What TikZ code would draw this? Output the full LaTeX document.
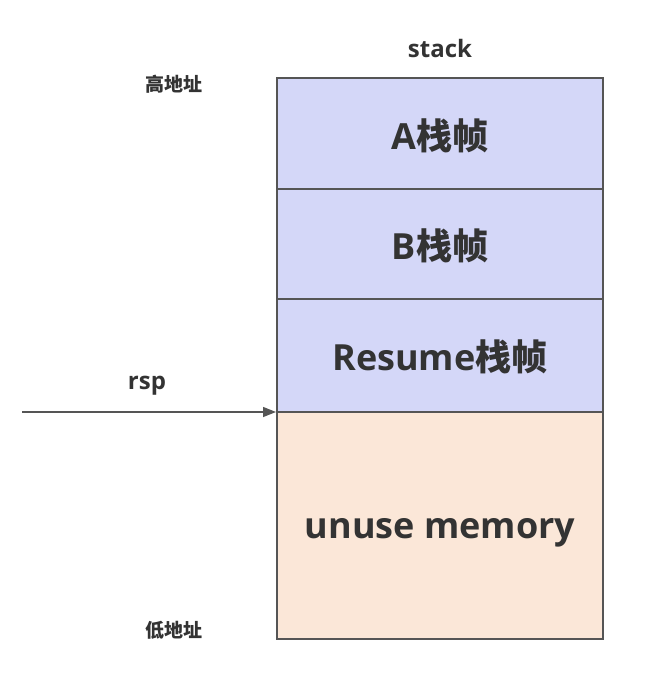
\documentclass[tikz,border=0pt]{standalone}
\usepackage{fontspec}
\setmainfont{Open Sans}
\newfontfamily\cjk{Noto Sans CJK SC}
\usetikzlibrary{arrows.meta}
\definecolor{frameblue}{HTML}{D4D7F8}
\definecolor{framepeach}{HTML}{FBE7D8}
\definecolor{edgegray}{HTML}{555555}
\definecolor{txt}{HTML}{333333}
\tikzset{
  cell/.style={draw=edgegray, line width=1.4pt},
  big/.style={font=\fontsize{36}{40}\selectfont\bfseries, text=txt},
  lbl/.style={font=\fontsize{24}{28}\selectfont\bfseries, text=txt},
  small/.style={font=\fontsize{19}{22}\selectfont\cjk\bfseries, text=txt},
}
\begin{document}
\begin{tikzpicture}[x=1pt,y=-1pt]
\useasboundingbox (0,0) rectangle (645,688);
\fill[white] (0,0) rectangle (645,688);
\path[cell, fill=frameblue] (277,78) rectangle (603,189);
\path[cell, fill=frameblue] (277,189) rectangle (603,299);
\path[cell, fill=frameblue] (277,299) rectangle (603,412);
\path[cell, fill=framepeach] (277,412) rectangle (603,639);
\node[big] (a) at (440,136) {A{\cjk 栈帧}};
\node[big] (b) at (440,246) {B{\cjk 栈帧}};
\node[big] (r) at (440,357) {Resume{\cjk 栈帧}};
\node[big] (u) at (440,533) {unuse memory};
\node[lbl] (stk) at (440,48) {stack};
\node[small] (hi) at (174,84) {高地址};
\node[small] (lo) at (174,630) {低地址};
\node[lbl] (rsp) at (147,386) {rsp};
\coordinate (s) at (22,412);
\coordinate (t) at (276,412);
\draw[edgegray, line width=1.4pt, -{Triangle[length=13pt,width=10pt]}] (s) -- (t);
\end{tikzpicture}
\end{document}
